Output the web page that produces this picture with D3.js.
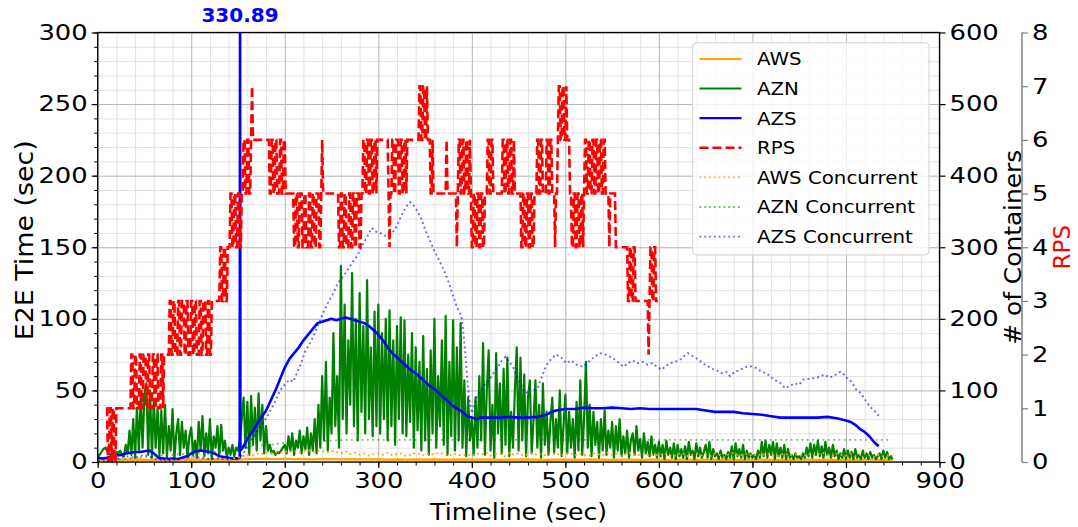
<!DOCTYPE html>
<html><head><meta charset="utf-8">
<script src="https://cdn.jsdelivr.net/npm/d3@7"></script>
<style>body{margin:0;background:#fff;} svg text{font-family:"DejaVu Sans",sans-serif;}</style>
</head><body><svg id="chart" width="1078" height="527"></svg>
<script>
// ---------------- DATA ----------------
const xTicks = [0,100,200,300,400,500,600,700,800,900];
const e2eTicks = [0,50,100,150,200,250,300];
const containerTicks = [0,100,200,300,400,500,600];
const rpsTicks = [0,1,2,3,4,5,6,7,8];
const legendLabels = ["AWS","AZN","AZS","RPS","AWS Concurrent","AZN Concurrent","AZS Concurrent"];
const spikeLabel = "330.89";
const spikeTime = 152.2;

// RPS per second: [startSecond, values...]
const rpsChunks = [
[9,[1,1,0,0,1,1,0,1,1,0,0,1,1,1]],
[23,[1,1,1,1,1,1,1,1,1,1,1,1,1]],
[36,[2,2,1,1,2,2,1,1,1,2,2,1,1,2,2,2,1,1,2,2,1,1,1,2,2,1,1,2,2,1,1,1,2,2,1,2,2]],
[73,[2,2,2,2]],
[77,[3,3,2,2,3,3,2,2,2,3,3,2,2,3,3,3,2,2,3,3,2,2,2,3,3,2,2,3,3,2,2,2,3,3,2,2,3,3,3,2,2,3,3,2,2,3]],
[123,[3,3,3,3,3,3,3,3]],
[131,[4,4,3,3,4,4,3,3,4,4,4]],
[142,[5,5,4,4,5,5,4,4,5,5,4,4,5,5]],
[156,[6,6,5,5,6,6,5,5,6,7,6,6]],
[168,[6,6,6,6,6,6,6,6,6,6,6,6,6,6,6,6]],
[184,[5,5,6,6,5,5,6,6,5,5,5,6,6,5,5,6,6,5]],
[202,[5,5,5,5,5,5,5,5]],
[210,[4,4,5,5,4,4,5,5,5,4,4,5,5,4,4,4,5,5,4,4,5,5,4,4,5,5,5,4,4,5,6]],
[241,[5,5,5,5,5,5,5,5,5,5,5,5,5,5,5,5,5]],
[258,[4,4,5,5,4,4,5,5,4,4,4,5,5,4,4,5,5,4,4,5,5,5,4,4,5,5]],
[284,[6,6,5,5,6,6,5,5,6,6,5,5,6,6,5]],
[299,[6,6,6,6,6,6,6,6,6,6,6,6,5,4]],
[313,[5,5,6,6,5,5,6,6,6,5,5,6,6,5,5,6,6,5,6]],
[332,[6,6,6,6,6,6,6,6,6,6,6,6]],
[344,[7,7,6,6,7,7,6,6,7,6]],
[354,[6,6,5]],
[357,[5,6,5,5,5,5,5,5,5,5,5,5,5,5,5,5,6,5,5,5,5,5,5,5,5]],
[382,[5,5,4,5,6,6,5,5,6,6,5,5,6,6,5,5,6,5]],
[400,[4,4,5,5,4,4,5,5,4,4,5,5,4,4,5,5,5]],
[417,[6,6,5,5,6,6,5,5,5,5,5,5,5,5,5,5,6,6,5,5,6,6,5,5,6,6,5,5,6,5]],
[447,[5,5,5,5,5,5]],
[453,[4,4,5,5,4,4,5,5,4,4,5,5,4,4,5,5,5]],
[470,[6,6,5,5,6,6,5,5,5,5,6,6,5,5,6,6,5]],
[487,[5,5,4,5,5]],
[492,[6,7,7,6,6,7,7,6,6,7,6,6]],
[504,[6,5,5]],
[507,[4,4,5,5,4,4,5,5,4,4,5,5,4,5]],
[521,[6,6,5,5,6,6,5,5,6,6,5,5,6,6,5,5,6,6,5,5,6,6,5]],
[544,[5,5,5,4,5,5,5,5,5,5,4,4]],
[556,[4,4,4,4,4,4,4,4,4,4,4]],
[567,[3,3,4,4,3,3,4,4,3,3,3]],
[578,[3,3,3,3,3,3,3,3,3,3,3]],
[589,[2]],
[590,[3,4,4,3,3,4,4,3,3,3]]
];
const rpsStep = 1;

// AZN E2E time, every 2 s: [startSecond, values...]
const aznChunks = [
[0,[3,5,7,9,10,8,6,5,6,5,7,6,8,5,4,12,6,22,5,30,3,38,8,45,10]],
[50,[48,55,5,50,3,44,10,38,4,36,6,40,3,25,8,37,2,20,30,5,28,10,22,3,18]],
[100,[24,5,15,3,28,8,32,4,20,6,30,2,18,10,25,4,26,8,15,3,10,5,12,4,10]],
[150,[8,15,30,45,10,42,5,46,12,38,8,48,15,40,6,25,8,12,6,8,5,7,6,8,10]],
[200,[12,6,18,8,20,5,15,10,22,6,18,9,24,5,20,8,30,6,40,10,60,15,70,8,45]],
[250,[20,90,25,60,10,137,30,110,20,85,40,132,25,100,15,118,35,95,20,127,30,80,18,105,25]],
[300,[110,20,90,30,100,15,106,25,85,12,95,30,101,20,99,18,75,28,90,10,80,22,70,8,88]],
[350,[15,65,5,78,20,100,10,60,25,85,12,102,5,70,18,99,8,80,15,97,10,57,4,45,15]],
[400,[30,5,45,10,60,15,83,5,50,78,8,40,3,76,20,55,6,65,12,73,4,35,10,50,80]],
[450,[8,73,15,61,4,45,57,6,30,57,10,40,3,55,12,35,5,28,45,6,30,10,50,4,25]],
[500,[47,6,35,10,30,3,42,8,57,5,30,70,10,40,4,35,12,28,3,30,8,36,5,22,10]],
[550,[28,3,25,8,30,4,18,6,22,3,15,20,5,25,8,16,3,20,6,14,4,18,5,12,3]],
[600,[14,4,12,2,15,5,10,3,13,2,12,4,9,3,11,2,14,5,8,2,13,4,10,3,7]],
[650,[12,3,14,2,9,4,6,2,8,3,5,2,7,3,11,2,13,4,9,3,12,2,8,3,6]],
[700,[3,5,2,8,3,14,4,15,3,12,5,14,2,13,4,10,3,12,2,9,3,5,2,6,3]],
[750,[4,2,6,3,10,4,13,3,12,5,15,4,11,3,14,5,10,3,12,4,8,2,6,3,9]],
[800,[2,8,3,7,2,9,3,5,2,8,3,6,2,7,3,5,2,4,6,2,8,3,7,2,4]],
[850,[2]]
];
const aznStep = 2;

// AWS E2E time, every 10 s
const awsChunks = [
[0,[1.5,1.8,1.6,1.7,1.9,1.6,1.5,1.8,1.7,1.6]],
[100,[1.8,1.7,1.6,1.9,1.7,1.6,2.0,2.2,2.4,2.1]],
[200,[2.3,2.0,2.2,1.9,2.1,2.0,1.8,2.0,1.9,1.8]],
[300,[1.9,1.7,1.8,1.6,1.9,1.7,1.8,1.6,1.7,1.8]],
[400,[1.6,1.7,1.8,1.5,1.7,1.6,1.8,1.7,1.5,1.6]],
[500,[1.7,1.5,1.6,1.8,1.6,1.5,1.7,1.6,1.5,1.7]],
[600,[1.6,1.5,1.7,1.6,1.5,1.6,1.7,1.5,1.6,1.5]],
[700,[1.6,1.7,1.5,1.6,1.5,1.7,1.6,1.5,1.6,1.5]],
[800,[1.6,1.5,1.7,1.6,1.5,1.6]]
];
const awsStep = 10;

// AZS E2E time: [second, value]
const azsPoints = [[0,3],[5,2.5],[10,3],[15,4],[20,4.5],[25,5],[30,6],[35,6.5],[40,7],[45,7],[50,7.5],[55,8],[60,6],[65,3],[70,2.5],[75,2],[80,2.5],[85,2],[90,3],[95,4],[100,6],[105,7.5],[110,8],[115,7.5],[120,7],[125,6],[130,4],[135,3.5],[140,3],[145,2.5],[150,2.5],[151.8,3],[152.2,330.89],[152.6,8],[155,10],[160,16],[165,21],[170,26],[175,31],[180,36],[185,43],[190,50],[195,58],[200,66],[205,72],[210,76],[215,80],[220,85],[225,89],[230,93],[235,97],[240,98],[245,99],[250,100],[255,99],[260,100],[265,101],[270,100],[275,99],[280,98],[285,97],[290,95],[295,92],[300,89],[305,85],[310,80],[315,76],[320,73],[325,70],[330,67],[335,64],[340,62],[345,59],[350,56],[355,53],[360,51],[365,48],[370,45],[375,42],[380,39],[385,37],[390,35],[395,32],[400,31],[405,30],[410,31],[420,31],[430,31],[440,31.5],[450,31],[460,31],[470,31.5],[480,33],[485,35],[490,36],[500,37],[510,37],[520,38],[530,37.5],[540,37.5],[550,38],[560,37.5],[570,37],[580,37.5],[590,37],[600,37],[610,37],[620,37],[630,37],[640,37],[650,36],[660,35],[670,35],[680,35],[690,34],[700,33.5],[710,33],[720,32],[730,31],[740,31],[750,31],[760,31],[770,31],[780,31.5],[790,30.5],[800,29],[805,28],[810,26],[815,23],[820,21],[825,18],[830,14],[835,11]];

// Concurrent containers
const awsConcChunks = [
[0,[1,2,1,3,2,2,3,2,1,2]],
[50,[3,2,2,1,2,3,2,2,3,2]],
[100,[2,3,2,4,3,2,3,4,3,5]],
[150,[6,8,10,9,12,11,13,12,14,13]],
[200,[15,14,16,13,15,17,14,16,15,13]],
[250,[16,14,12,15,11,13,10,12,9,11]],
[300,[12,10,13,9,11,12,8,10,13,11]],
[350,[9,12,10,13,11,8,12,10,9,11]],
[400,[8,12,10,13,9,11,12,8,13,10]],
[450,[12,9,11,13,10,12,8,11,13,9]],
[500,[11,13,9,12,10,8,12,11,9,13]],
[550,[10,12,8,11,13,9,10,12,8,11]],
[600,[9,12,10,7,11,13,8,10,12,9]],
[650,[11,8,12,10,7,11,13,9,10,12]],
[700,[8,11,9,12,10,7,10,12,9,11]],
[750,[10,8,12,9,11,13,10,8,12,10]],
[800,[9,11,8,10,12,9,7,10,8,9]],
[850,[8]]
];
const awsConcStep = 5;

const aznConcPoints = [[0,1],[20,3],[40,6],[60,8],[80,10],[100,12],[120,14],[140,16],[155,20],[170,23],[185,24],[200,27],[215,28],[230,29],[250,30],[270,31],[300,31],[400,31],[500,31],[600,31],[700,31],[800,31],[849,31]];

const azsConcPoints = [[0,3],[10,5],[20,4],[30,8],[40,6],[50,10],[60,5],[70,2],[75,0],[80,3],[90,5],[100,8],[110,6],[120,4],[130,5],[140,3],[150,5],[155,10],[160,22],[165,32],[170,42],[175,52],[181,63],[186,75],[190,85],[195,100],[200,108],[205,115],[209,112],[213,124],[218,140],[222,155],[227,166],[232,180],[237,195],[241,208],[246,222],[252,236],[256,248],[259,254],[264,262],[268,270],[273,280],[277,287],[282,300],[287,312],[293,327],[297,322],[302,320],[307,316],[312,317],[316,322],[320,330],[325,345],[330,357],[334,363],[337,360],[341,352],[346,340],[350,325],[355,310],[360,295],[365,282],[370,268],[375,252],[380,232],[384,217],[389,203],[391,180],[393,152],[395,118],[397,90],[400,68],[403,82],[405,91],[410,100],[415,110],[419,115],[423,124],[428,133],[432,142],[436,147],[440,140],[444,133],[448,120],[452,110],[455,101],[458,96],[462,102],[466,100],[471,105],[475,120],[480,136],[485,144],[490,150],[495,147],[501,138],[506,142],[512,136],[519,133],[525,140],[531,147],[537,152],[543,150],[551,145],[556,140],[562,133],[567,138],[572,142],[577,138],[583,140],[588,136],[593,138],[598,133],[603,129],[608,135],[612,138],[617,140],[622,142],[627,148],[631,152],[636,148],[641,144],[647,138],[652,134],[657,130],[662,128],[667,124],[672,126],[676,120],[681,126],[686,128],[691,132],[696,134],[701,133],[706,130],[710,126],[715,124],[720,118],[725,114],[730,110],[735,103],[740,106],[745,110],[750,108],[754,115],[759,116],[764,117],[769,118],[772,119],[777,122],[782,118],[787,120],[791,124],[794,126],[798,122],[802,116],[806,112],[811,101],[816,96],[820,88],[823,82],[826,77],[830,72],[833,68],[836,63]];

// ---------------- CHART ----------------
function flat(chunks, step){const out=[];chunks.forEach(([t0,vals])=>vals.forEach((v,i)=>out.push([t0+i*step,v])));return out;}
const rpsData = flat(rpsChunks, rpsStep);
const aznData = flat(aznChunks, aznStep);
const awsData = flat(awsChunks, awsStep);
const awsConcData = flat(awsConcChunks, awsConcStep);

const svg = d3.select("#chart");
const L=97.7, R=939.5, T=32.5, B=462, RPSX=1022;
const FS_TICK = 21.5, FS_LABEL = 23, FS_LEG = 18;
const TICK_STRETCH = 1.2, LEG_STRETCH = 1.1;
const x = d3.scaleLinear().domain([0,900]).range([L,R]);
const yL = d3.scaleLinear().domain([0,300]).range([B,T]);
const yC = d3.scaleLinear().domain([0,600]).range([B,T]);
const yR = d3.scaleLinear().domain([0,8]).range([B,T]);

function stretch(sel, k){
  sel.each(function(){const w=this.getComputedTextLength();d3.select(this).attr("textLength",w*k).attr("lengthAdjust","spacingAndGlyphs");});
}

svg.append("defs").append("clipPath").attr("id","clip").append("rect")
  .attr("x",L).attr("y",T).attr("width",R-L).attr("height",B-T);

// grid
function gridX(vals,color){
  svg.append("g").attr("transform",`translate(0,${B})`)
    .call(d3.axisBottom(x).tickValues(vals).tickSize(-(B-T)).tickFormat(""))
    .call(g=>{g.select(".domain").remove();g.selectAll("line").attr("stroke",color).attr("stroke-width",1);});
}
function gridY(vals,color){
  svg.append("g").attr("transform",`translate(${L},0)`)
    .call(d3.axisLeft(yL).tickValues(vals).tickSize(-(R-L)).tickFormat(""))
    .call(g=>{g.select(".domain").remove();g.selectAll("line").attr("stroke",color).attr("stroke-width",1);});
}
gridX(d3.range(0,901,20).filter(v=>v%100), "#e3e3e3");
gridY(d3.range(0,301,10).filter(v=>v%50), "#e3e3e3");
gridX(xTicks, "#b5b5b5");
gridY(e2eTicks, "#b5b5b5");

const plot = svg.append("g").attr("clip-path","url(#clip)");
const lineE = d3.line().x(d=>x(d[0])).y(d=>yL(d[1]));
const lineC = d3.line().x(d=>x(d[0])).y(d=>yC(d[1]));
const lineR = d3.line().x(d=>x(d[0])).y(d=>yR(d[1]));

plot.append("path").datum(awsData).attr("d",lineE).attr("fill","none").attr("stroke","#FFA500").attr("stroke-width",2.2);
plot.append("path").datum(aznData).attr("d",lineE).attr("fill","none").attr("stroke","#008000").attr("stroke-width",2.2).attr("stroke-linejoin","round");
plot.append("path").datum(azsPoints).attr("d",lineE).attr("fill","none").attr("stroke","#0000FF").attr("stroke-width",2.6).attr("stroke-linejoin","round");
plot.append("path").datum(awsConcData).attr("d",lineC).attr("fill","none").attr("stroke","#FFA500").attr("stroke-opacity",0.95).attr("stroke-width",1.9).attr("stroke-dasharray","1.9,3");
plot.append("path").datum(aznConcPoints).attr("d",lineC).attr("fill","none").attr("stroke","#008000").attr("stroke-opacity",0.55).attr("stroke-width",1.8).attr("stroke-dasharray","1.8,3.5");
plot.append("path").datum(azsConcPoints).attr("d",lineC).attr("fill","none").attr("stroke","#0000FF").attr("stroke-opacity",0.6).attr("stroke-width",1.9).attr("stroke-dasharray","1.9,3");
plot.append("path").datum(rpsData).attr("d",lineR).attr("fill","none").attr("stroke","#FF0000").attr("stroke-width",2.6).attr("stroke-dasharray","9,4");

// axes
function styleAxis(g){g.selectAll("text").attr("font-size",FS_TICK).attr("fill","#000").attr("font-family","DejaVu Sans").call(stretch,TICK_STRETCH);g.selectAll("line").attr("stroke-width",1.2);}
svg.append("g").attr("transform",`translate(0,${B})`)
  .call(d3.axisBottom(x).tickValues(d3.range(0,901,20)).tickSize(3.5).tickFormat("").tickSizeOuter(0))
  .call(g=>g.select(".domain").remove()).call(g=>g.selectAll("line").attr("stroke-width",1));
svg.append("g").attr("transform",`translate(0,${B})`)
  .call(d3.axisBottom(x).tickValues(xTicks).tickSize(6).tickPadding(5).tickSizeOuter(0))
  .call(g=>g.select(".domain").remove()).call(styleAxis);
svg.append("g").attr("transform",`translate(${L},0)`)
  .call(d3.axisLeft(yL).tickValues(d3.range(0,301,10)).tickSize(3.5).tickFormat("").tickSizeOuter(0))
  .call(g=>g.select(".domain").remove()).call(g=>g.selectAll("line").attr("stroke-width",1));
svg.append("g").attr("transform",`translate(${L},0)`)
  .call(d3.axisLeft(yL).tickValues(e2eTicks).tickSize(6).tickPadding(4).tickSizeOuter(0))
  .call(g=>g.select(".domain").remove()).call(styleAxis);
svg.append("g").attr("transform",`translate(${R},0)`)
  .call(d3.axisRight(yC).tickValues(containerTicks).tickSize(6).tickPadding(4).tickSizeOuter(0))
  .call(g=>g.select(".domain").remove()).call(styleAxis);
svg.append("g").attr("transform",`translate(${RPSX},0)`)
  .call(d3.axisRight(yR).tickValues(rpsTicks).tickSize(6).tickPadding(4).tickSizeOuter(0))
  .call(g=>{styleAxis(g);g.select(".domain").remove();g.selectAll("line").attr("stroke","#808080");});
svg.append("line").attr("x1",RPSX).attr("x2",RPSX).attr("y1",T).attr("y2",B).attr("stroke","#808080").attr("stroke-width",1.5);

// frame
svg.append("rect").attr("x",L).attr("y",T).attr("width",R-L).attr("height",B-T)
  .attr("fill","none").attr("stroke","#000").attr("stroke-width",1.3);

// labels
svg.append("text").attr("x",(L+R)/2).attr("y",520).attr("text-anchor","middle").attr("font-size",FS_LABEL)
  .attr("textLength",177).attr("lengthAdjust","spacingAndGlyphs").text("Timeline (sec)");
svg.append("text").attr("transform",`translate(33,${(T+B)/2 - 7}) rotate(-90)`).attr("text-anchor","middle").attr("font-size",FS_LABEL+1)
  .attr("textLength",200).attr("lengthAdjust","spacingAndGlyphs").text("E2E Time (sec)");
svg.append("text").attr("transform",`translate(1021,${(T+B)/2}) rotate(-90)`).attr("text-anchor","middle").attr("font-size",FS_LABEL)
  .attr("textLength",195).attr("lengthAdjust","spacingAndGlyphs").text("# of Containers");
svg.append("text").attr("transform",`translate(1070,${(T+B)/2}) rotate(-90)`).attr("text-anchor","middle").attr("font-size",FS_LABEL).attr("fill","#FF0000").text("RPS");
svg.append("text").attr("x",x(spikeTime)).attr("y",22).attr("text-anchor","middle").attr("font-size",20).attr("font-weight","bold").attr("fill","#0000FF").text(spikeLabel);

// legend
const leg = svg.append("g");
leg.append("rect").attr("x",692.7).attr("y",42.7).attr("width",236.3).attr("height",212.3).attr("rx",4)
  .attr("fill","#fff").attr("fill-opacity",0.8).attr("stroke","#d0d0d0").attr("stroke-width",1);
const legStyles = [
  {c:"#FFA500",w:2.2,d:null,o:1},{c:"#008000",w:2,d:null,o:1},{c:"#0000FF",w:2.2,d:null,o:1},
  {c:"#FF0000",w:2.6,d:"9,4",o:1},{c:"#FFA500",w:1.8,d:"1.8,3",o:0.8},{c:"#008000",w:1.8,d:"1.8,3",o:0.55},{c:"#0000FF",w:1.8,d:"1.8,3",o:0.6}
];
legendLabels.forEach((lab,i)=>{
  const yy = 59 + i*29.6;
  const s = legStyles[i];
  const ln = leg.append("line").attr("x1",699.5).attr("x2",741.5).attr("y1",yy).attr("y2",yy)
    .attr("stroke",s.c).attr("stroke-width",s.w).attr("stroke-opacity",s.o);
  if(s.d) ln.attr("stroke-dasharray",s.d);
  leg.append("text").attr("x",757).attr("y",yy).attr("dy","0.36em").attr("font-size",FS_LEG).text(lab).call(stretch,LEG_STRETCH);
});
</script></body></html>
